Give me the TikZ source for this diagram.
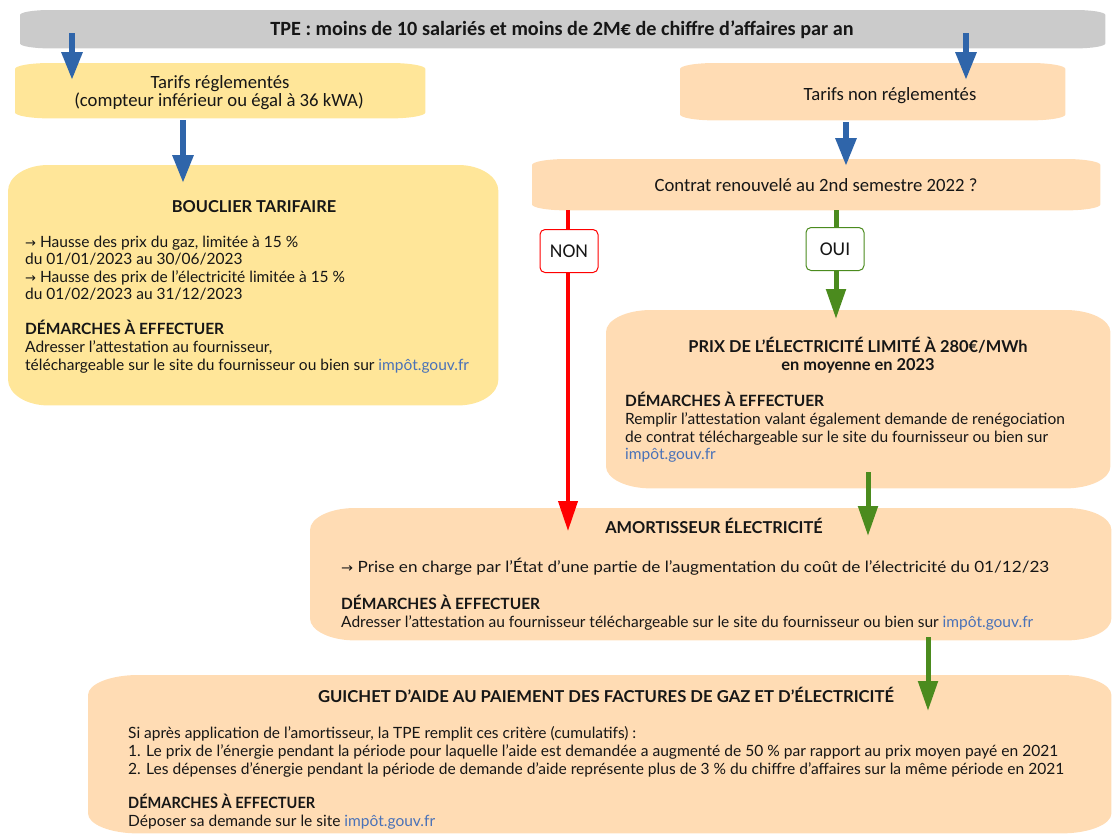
\documentclass[tikz,border=0pt]{standalone}
\usepackage{fontspec}
\usepackage{graphicx}
\setmainfont{Lato}
\newfontfamily\calfont{Carlito}
\newfontfamily\dejafont{DejaVu Sans}
\usetikzlibrary{arrows.meta}
\definecolor{greyb}{HTML}{CBCBCB}
\definecolor{yel}{HTML}{FFE699}
\definecolor{peach}{HTML}{FFDCB4}
\definecolor{blu}{HTML}{2F65AA}
\definecolor{grn}{HTML}{4B8B1E}
\definecolor{rd}{HTML}{FF0000}
\definecolor{lnk}{HTML}{4A72B8}
\definecolor{txt}{HTML}{161616}
\newcommand{\arr}{{\dejafont\fontsize{13}{15}\selectfont →}}
\newcommand{\lnk}{\textcolor{lnk}{impôt.gouv.fr}}
\newsavebox\fitbox
\newcommand\fit[2]{\sbox\fitbox{#2}\pgfmathsetmacro\fitr{#1/\the\wd\fitbox}\scalebox{\fitr}[1]{\usebox\fitbox}}
% box with elliptical corners drawn on a named node: name, colour, x radius, y radius
\newcommand\ebox[4]{%
  \fill[#2] ([xshift=#3]#1.north west) -- ([xshift=-#3]#1.north east)
    arc[start angle=90, end angle=0, x radius=#3, y radius=#4]
    -- ([yshift=#4]#1.south east)
    arc[start angle=0, end angle=-90, x radius=#3, y radius=#4]
    -- ([xshift=#3]#1.south west)
    arc[start angle=270, end angle=180, x radius=#3, y radius=#4]
    -- ([yshift=-#4]#1.north west)
    arc[start angle=180, end angle=90, x radius=#3, y radius=#4]
    -- cycle;}
\begin{document}
\begin{tikzpicture}[x=1pt,y=-1pt,
  box/.style={inner sep=0pt, anchor=north west, draw=none},
  tl/.style={anchor=base west, inner sep=0pt, text=txt, font=\fontsize{15.5}{18}\selectfont},
  tb/.style={anchor=base west, inner sep=0pt, text=txt, font=\fontsize{15.5}{18}\selectfont\bfseries},
  tt/.style={anchor=base, inner sep=0pt, text=txt, font=\fontsize{16.4}{19}\selectfont\bfseries},
  cal/.style={anchor=base, inner sep=0pt, text=txt, font=\calfont\fontsize{18.7}{22}\selectfont},
  barr/.style={line width=6pt, draw=blu, -{Triangle[width=20pt,length=28pt]}},
  garr/.style={line width=5pt, draw=grn, -{Triangle[width=19pt,length=30pt]}},
  rarr/.style={line width=4pt, draw=rd, -{Triangle[width=19pt,length=30pt]}},
  lab/.style={inner sep=0pt, fill=white, rounded corners=5pt, line width=1pt, minimum width=58pt, minimum height=43pt, font=\calfont\fontsize{19.5}{22}\selectfont, text=txt}
]
\useasboundingbox (0,0) rectangle (1112,836);

% box frames (named), then their fills
\node[box, minimum width=1085pt, minimum height=38pt] (tpe) at (20,10) {};
\node[box, minimum width=410pt, minimum height=55pt] (reg) at (15,63) {};
\node[box, minimum width=385pt, minimum height=57pt] (nreg) at (680,63) {};
\node[box, minimum width=568pt, minimum height=51pt] (contrat) at (532,159) {};
\node[box, minimum width=490pt, minimum height=240pt] (bouclier) at (8,165) {};
\node[box, minimum width=504pt, minimum height=178pt] (prix) at (606,310) {};
\node[box, minimum width=801pt, minimum height=132pt] (amort) at (310,508) {};
\node[box, minimum width=1023pt, minimum height=158pt] (guichet) at (88,675) {};

\ebox{tpe}{greyb}{30pt}{5pt}
\ebox{reg}{yel}{35pt}{6pt}
\ebox{nreg}{peach}{35pt}{6pt}
\ebox{contrat}{peach}{35pt}{6pt}
\ebox{bouclier}{yel}{40pt}{26pt}
\ebox{prix}{peach}{45pt}{22pt}
\ebox{amort}{peach}{45pt}{22pt}
\ebox{guichet}{peach}{50pt}{20pt}

% connector end points
\coordinate (a1s) at (72,33);   \coordinate (a1e) at (72,80);
\coordinate (a2s) at (966,33);  \coordinate (a2e) at (966,80);
\coordinate (a3s) at (183,120); \coordinate (a3e) at (183,183);
\coordinate (a4s) at (846,122); \coordinate (a4e) at (846,166);
\coordinate (a5s) at (568,210); \coordinate (a5e) at (568,531);
\coordinate (a6s) at (836,210); \coordinate (a6e) at (836,319);
\coordinate (a7s) at (868,472); \coordinate (a7e) at (868,536);
\coordinate (a8s) at (928,637); \coordinate (a8e) at (928,711);

\draw[barr] (a1s) -- (a1e);
\draw[barr] (a2s) -- (a2e);
\draw[barr] (a3s) -- (a3e);
\draw[barr] (a4s) -- (a4e);
\draw[rarr] (a5s) -- (a5e);
\draw[garr] (a6s) -- (a6e);
\draw[garr] (a7s) -- (a7e);
\draw[garr] (a8s) -- (a8e);

\node[lab, draw=rd] (non) at (569,251) {NON};
\node[lab, draw=grn] (oui) at (835,249) {OUI};

% texts
\node[cal, font=\calfont\fontsize{20.2}{24}\selectfont\bfseries] (tpet) at (562,35) {TPE : moins de 10 salariés et moins de 2M€ de chiffre d’affaires par an};
\node[cal] (reg1) at (220,88) {Tarifs réglementés};
\node[cal] (reg2) at (219,106) {(compteur inférieur ou égal à 36 kWA)};
\node[cal] (nreg1) at (890,100) {Tarifs non réglementés};
\node[cal] (contrat1) at (816,191) {Contrat renouvelé au 2nd semestre 2022 ?};

\node[tt] (bt) at (254,212) {BOUCLIER TARIFAIRE};
\node[tl] (b1) at (25,247) {\arr{} Hausse des prix du gaz, limitée à 15 \%};
\node[tl] (b2) at (25,264) {du 01/01/2023 au 30/06/2023};
\node[tl] (b3) at (25,282) {\arr{} Hausse des prix de l’électricité limitée à 15 \%};
\node[tl] (b4) at (25,299) {du 01/02/2023 au 31/12/2023};
\node[tb] (b5) at (25,334) {DÉMARCHES À EFFECTUER};
\node[tl] (b6) at (25,352) {Adresser l’attestation au fournisseur,};
\node[tl] (b7) at (25,370) {téléchargeable sur le site du fournisseur ou bien sur \lnk};

\node[tt] (pt1) at (858,352) {PRIX DE L’ÉLECTRICITÉ LIMITÉ À 280€/MWh};
\node[tt] (pt2) at (858,370) {en moyenne en 2023};
\node[tb] (p1) at (625,406) {DÉMARCHES À EFFECTUER};
\node[tl] (p2) at (625,424) {Remplir l’attestation valant également demande de renégociation};
\node[tl] (p3) at (625,442) {de contrat téléchargeable sur le site du fournisseur ou bien sur};
\node[tl] (p4) at (625,459) {\lnk};

\node[tt] (at) at (714,533) {AMORTISSEUR ÉLECTRICITÉ};
\node[tl] (am1) at (341,572) {\fit{708}{\arr{} Prise en charge par l’État d’une partie de l’augmentation du coût de l’électricité du 01/12/23}};
\node[tb] (am2) at (341,609) {DÉMARCHES À EFFECTUER};
\node[tl] (am3) at (341,627) {Adresser l’attestation au fournisseur téléchargeable sur le site du fournisseur ou bien sur \lnk};

\node[tt] (gt) at (606,702) {\fit{576}{GUICHET D’AIDE AU PAIEMENT DES FACTURES DE GAZ ET D’ÉLECTRICITÉ}};
\node[tl] (g1) at (128,738) {\fit{508}{Si après application de l’amortisseur, la TPE remplit ces critère (cumulatifs) :}};
\node[tl] (g2) at (128,756) {\fit{930}{1. Le prix de l’énergie pendant la période pour laquelle l’aide est demandée a augmenté de 50 \% par rapport au prix moyen payé en 2021}};
\node[tl] (g3) at (128,774) {\fit{936}{2. Les dépenses d’énergie pendant la période de demande d’aide représente plus de 3 \% du chiffre d’affaires sur la même période en 2021}};
\node[tb] (g4) at (128,808) {\fit{187}{DÉMARCHES À EFFECTUER}};
\node[tl] (g5) at (128,826) {\fit{307}{Déposer sa demande sur le site \lnk}};
\end{tikzpicture}
\end{document}
